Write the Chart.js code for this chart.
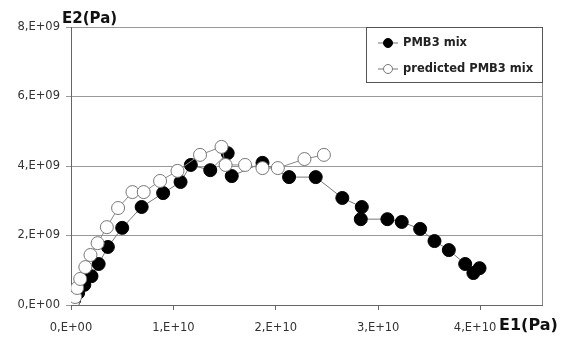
<!DOCTYPE html>
<html>
<head>
<meta charset="utf-8">
<script src="https://cdn.jsdelivr.net/npm/chart.js@4"></script>
<style>
  body { margin: 0; background: #fff; }
</style>
</head>
<body>
<canvas id="chart" width="565" height="340"></canvas>
<script>
// E1 in units of 1e10 Pa, E2 in units of 1e9 Pa
const measuredE1 = [0.01, 0.03, 0.07, 0.13, 0.20, 0.27, 0.36, 0.50, 0.69, 0.90, 1.07, 1.17, 1.36, 1.53, 1.57, 1.87, 2.13, 2.39, 2.65, 2.84, 2.83, 3.09, 3.23, 3.41, 3.55, 3.69, 3.85, 3.93, 3.99];
const measuredE2 = [0.00, 0.14, 0.35, 0.58, 0.83, 1.18, 1.67, 2.22, 2.82, 3.22, 3.54, 4.03, 3.88, 4.37, 3.71, 4.09, 3.68, 3.68, 3.08, 2.82, 2.47, 2.47, 2.39, 2.19, 1.84, 1.58, 1.18, 0.92, 1.06];
const predictedE1 = [0.02, 0.04, 0.06, 0.09, 0.14, 0.19, 0.26, 0.35, 0.46, 0.60, 0.71, 0.87, 1.04, 1.26, 1.47, 1.51, 1.70, 1.87, 2.02, 2.28, 2.47];
const predictedE2 = [0.09, 0.23, 0.49, 0.75, 1.09, 1.44, 1.78, 2.24, 2.79, 3.25, 3.25, 3.57, 3.86, 4.32, 4.55, 4.03, 4.03, 3.94, 3.94, 4.20, 4.32];
const seriesNames = ["PMB3 mix", "predicted PMB3 mix"];
const xTicks = [0, 1e10, 2e10, 3e10, 4e10];

const toPoints = (xs, ys) => xs.map((x, i) => ({ x: x * 1e10, y: ys[i] * 1e9 }));

// legend box + axis titles + right border
const extras = {
    id: "extras",
    afterDraw(chart) {
        const c = chart.ctx, a = chart.chartArea;
        c.save();
        c.strokeStyle = "#888";
        c.lineWidth = 1;
        c.beginPath();
        c.moveTo(a.right + 0.5, a.top);
        c.lineTo(a.right + 0.5, a.bottom);
        c.stroke();

        // legend
        const bx = a.right - 176, by = a.top, bw = 176, bh = 55;
        c.fillStyle = "#fff";
        c.fillRect(bx, by, bw, bh);
        c.strokeStyle = "#555";
        c.strokeRect(bx + 0.5, by + 0.5, bw, bh);
        chart.data.datasets.forEach((ds, i) => {
            const y = by + 16 + i * 26;
            c.strokeStyle = "#777";
            c.beginPath();
            c.moveTo(bx + 12, y);
            c.lineTo(bx + 32, y);
            c.stroke();
            c.beginPath();
            c.arc(bx + 22, y, 4.5, 0, Math.PI * 2);
            c.fillStyle = ds.pointBackgroundColor;
            c.fill();
            c.strokeStyle = ds.pointBorderColor;
            c.stroke();
            c.fillStyle = "#222";
            c.font = "bold 11.5px 'DejaVu Sans'";
            c.textBaseline = "middle";
            c.fillText(ds.label, bx + 37, y);
        });

        // axis titles
        c.fillStyle = "#111";
        c.textBaseline = "middle";
        c.font = "bold 15px 'DejaVu Sans'";
        c.fillText("E2(Pa)", 62, 19);
        c.font = "bold 16px 'DejaVu Sans'";
        c.fillText("E1(Pa)", 499, 326);
        c.restore();
    }
};

new Chart(document.getElementById("chart"), {
    type: "scatter",
    data: {
        datasets: [
            {
                label: seriesNames[0],
                data: toPoints(measuredE1, measuredE2),
                showLine: true,
                borderColor: "#777",
                borderWidth: 1,
                pointRadius: 6.5,
                pointBackgroundColor: "#000",
                pointBorderColor: "#000",
                pointBorderWidth: 1,
                order: 1
            },
            {
                label: seriesNames[1],
                data: toPoints(predictedE1, predictedE2),
                showLine: true,
                borderColor: "#888",
                borderWidth: 1,
                pointRadius: 6.5,
                pointBackgroundColor: "#fff",
                pointBorderColor: "#777",
                pointBorderWidth: 1,
                order: 0
            }
        ]
    },
    options: {
        responsive: false,
        animation: false,
        layout: { padding: { top: 27, right: 23, left: 0, bottom: 0 } },
        plugins: { legend: { display: false }, tooltip: { enabled: false } },
        scales: {
            x: {
                type: "linear",
                min: 0,
                max: 4.6e10,
                afterFit: s => { s.height = 35; },
                afterBuildTicks: s => { s.ticks = xTicks.map(v => ({ value: v })); },
                grid: { drawOnChartArea: false, drawTicks: true, tickLength: 5, color: "#666" },
                border: { display: true, color: "#666" },
                ticks: {
                    padding: 11,
                    color: "#333",
                    font: { family: "DejaVu Sans", size: 11.5 },
                    // last label sits a little left so it clears the axis title
                    callback: v => v === 0 ? "0,E+00" : (v / 1e10) + ",E+10" + (v === 4e10 ? "   " : "")
                }
            },
            y: {
                min: 0,
                max: 8e9,
                afterFit: s => { s.width = 71; },
                grid: { color: "#999", tickLength: 5 },
                border: { display: true, color: "#666" },
                ticks: {
                    stepSize: 2e9,
                    padding: 6,
                    color: "#333",
                    font: { family: "DejaVu Sans", size: 11.5 },
                    callback: v => v === 0 ? "0,E+00" : (v / 1e9) + ",E+09"
                }
            }
        }
    },
    plugins: [extras]
});
</script>
</body>
</html>
